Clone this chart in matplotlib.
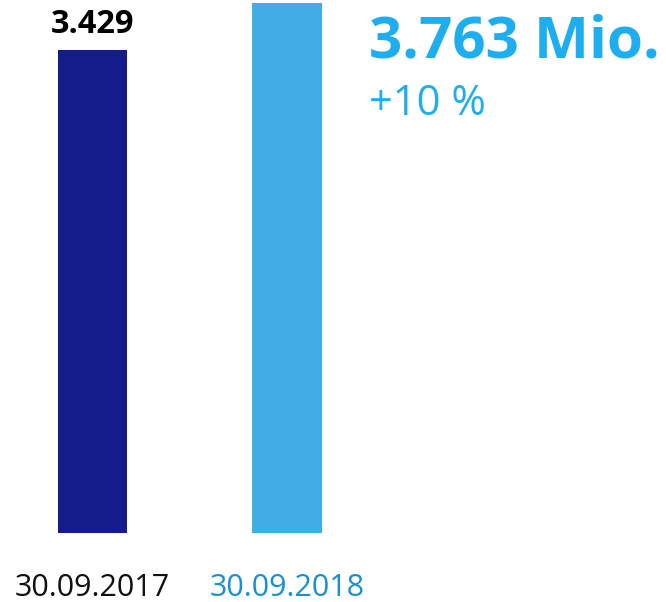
import matplotlib.pyplot as plt

# data
dates = ['30.09.2017', '30.09.2018']
values = [3.429, 3.763]
value_labels = ['3.429', None]
headline = '3.763 Mio.'
change = '+10 %'

bar_colors = ['#131c8a', '#41ade6']
date_colors = ['#111111', '#1a90d2']
head_color = '#1eaef0'

plt.rcParams['font.family'] = ['Open Sans', 'DejaVu Sans']

fig = plt.figure(figsize=(6.66, 6.02), dpi=100)
# axes placed so bar bottoms sit at y=533px and the tallest bar reaches y=3px
ax = fig.add_axes([0, 1 - 533 / 602, 1, 530 / 602])

x = list(range(len(values)))
ax.bar(x, values, width=0.355, color=bar_colors)
ax.set_xlim(-0.4756, 2.9486)
ax.set_ylim(0, max(values))
ax.axis('off')

# value above first bar
for xi, v, lab in zip(x, values, value_labels):
    if lab:
        ax.annotate(lab, xy=(xi, v), xytext=(0, 12), textcoords='offset points',
                    ha='center', va='baseline', fontsize=23.5, fontweight='bold',
                    color='black')

# dates under bars
for xi, d, c in zip(x, dates, date_colors):
    ax.annotate(d, xy=(xi, 0), xytext=(0, -45.5), textcoords='offset points',
                ha='center', va='baseline', fontsize=22, color=c,
                annotation_clip=False)

# headline figure
fig.text(369 / 666, 1 - 58 / 602, headline, ha='left', va='baseline',
         fontsize=42, fontweight='bold', color=head_color)
fig.text(369 / 666, 1 - 115 / 602, change, ha='left', va='baseline',
         fontsize=30, color=head_color)

fig.savefig('out.png', dpi=100)
